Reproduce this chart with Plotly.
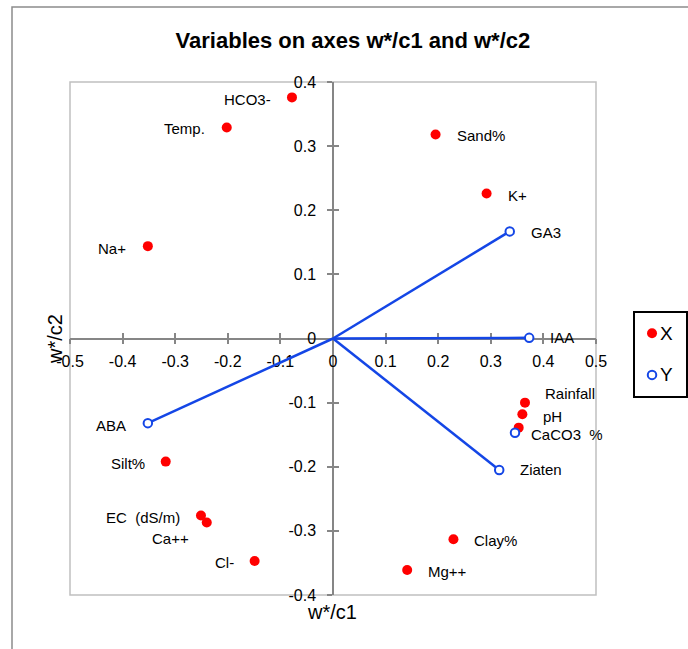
import plotly.graph_objects as go

# ---- data ----
x_names = ["HCO3-", "Temp.", "Na+", "Sand%", "K+", "Silt%", "EC  (dS/m)", "Ca++", "Cl-",
           "Rainfall", "pH", "CaCO3  %", "Clay%", "Mg++"]
x_c1 = [-0.078, -0.202, -0.352, 0.195, 0.292, -0.318, -0.251, -0.240, -0.149,
        0.365, 0.360, 0.353, 0.229, 0.141]
x_c2 = [0.376, 0.329, 0.144, 0.318, 0.226, -0.192, -0.276, -0.287, -0.347,
        -0.100, -0.118, -0.139, -0.313, -0.361]

y_names = ["GA3", "IAA", "ABA", "Ziaten", ""]
y_c1 = [0.336, 0.373, -0.352, 0.316, 0.346]
y_c2 = [0.167, 0.001, -0.132, -0.205, -0.147]
y_arrows = ["GA3", "IAA", "ABA", "Ziaten"]

x_ticks = [-0.5, -0.4, -0.3, -0.2, -0.1, 0, 0.1, 0.2, 0.3, 0.4, 0.5]
y_ticks = [-0.4, -0.3, -0.2, -0.1, 0, 0.1, 0.2, 0.3, 0.4]

series_names = ["X", "Y"]

# ---- label placement (anchor side, xshift, yshift in px) ----
label_pos = {
    "HCO3-": ("right", -19, -2), "Temp.": ("right", -20, -1), "Na+": ("right", -20, -2),
    "Sand%": ("left", 19, -1), "K+": ("left", 19, -2), "Silt%": ("right", -19, -2),
    "EC  (dS/m)": ("right", -19, -2), "Ca++": ("right", -16, -16), "Cl-": ("right", -19, -1),
    "Rainfall": ("left", 18, 9), "pH": ("left", 19, -2), "CaCO3  %": ("left", 10, -7),
    "Clay%": ("left", 19, -1), "Mg++": ("left", 19, -2),
    "GA3": ("left", 19, -1), "IAA": ("left", 19, 0), "ABA": ("right", -20, -2),
    "Ziaten": ("left", 19, 0),
}

RED = "#FF0000"
BLUE = "#1446E6"
FONT = "Liberation Sans, Arial, sans-serif"

PW = 688 - 70          # paper width (right margin 0)
PLOT_W = 526           # plot area width
XD = PLOT_W / PW       # x domain end

fig = go.Figure()

# vectors from origin to Y variables
lx, ly = [], []
for n, a, b in zip(y_names, y_c1, y_c2):
    if n in y_arrows:
        lx += [0, a, None]
        ly += [0, b, None]
fig.add_trace(go.Scatter(x=lx, y=ly, mode="lines", line=dict(color=BLUE, width=2.5),
                         showlegend=False, hoverinfo="skip"))

x_marker = dict(color=RED, size=10, line=dict(width=0))
y_marker = dict(color="white", size=8.5, line=dict(color=BLUE, width=2))

fig.add_trace(go.Scatter(x=x_c1, y=x_c2, mode="markers", name=series_names[0],
                         marker=x_marker, showlegend=False))
fig.add_trace(go.Scatter(x=y_c1, y=y_c2, mode="markers", name=series_names[1],
                         marker=y_marker, showlegend=False))

annotations = []
for names, xs, ys in ((x_names, x_c1, x_c2), (y_names, y_c1, y_c2)):
    for n, a, b in zip(names, xs, ys):
        if not n:
            continue
        side, dx, dy = label_pos[n]
        annotations.append(dict(x=a, y=b, xref="x", yref="y", text=n, showarrow=False,
                                xanchor=side, yanchor="middle", xshift=dx, yshift=dy,
                                font=dict(family=FONT, size=15, color="black")))

# axis titles
annotations.append(dict(x=(332 - 70) / PLOT_W, y=(595 - 612) / 513, xref="x domain",
                        yref="y domain", text="w*/c1", showarrow=False, xanchor="center",
                        yanchor="middle", font=dict(family=FONT, size=20, color="black")))
annotations.append(dict(x=(55 - 70) / PLOT_W, y=(595 - 339) / 513, xref="x domain",
                        yref="y domain", text="w*/c2", showarrow=False, textangle=-90,
                        xanchor="center", yanchor="middle",
                        font=dict(family=FONT, size=20, color="black")))

# legend (drawn in its own small axes box)
leg_y = [0.75, 0.26]
fig.add_trace(go.Scatter(x=[0.34], y=[leg_y[0]], mode="markers", marker=x_marker,
                         xaxis="x3", yaxis="y3", showlegend=False, hoverinfo="skip"))
fig.add_trace(go.Scatter(x=[0.34], y=[leg_y[1]], mode="markers", marker=y_marker,
                         xaxis="x3", yaxis="y3", showlegend=False, hoverinfo="skip"))
for nm, yy in zip(series_names, leg_y):
    annotations.append(dict(x=0.46, y=yy, xref="x3", yref="y3", text=nm, showarrow=False,
                            xanchor="left", yanchor="middle",
                            font=dict(family=FONT, size=19, color="black")))

axis_common = dict(showgrid=False, zeroline=False, showline=True, linecolor="#868686",
                   linewidth=1.5, tickcolor="#868686", tickwidth=1.5, ticklen=5,
                   anchor="free", layer="below traces")
tickfont = dict(family=FONT, size=16, color="black")

fig.update_layout(
    width=688, height=649,
    margin=dict(l=70, r=0, t=82, b=54, autoexpand=False),
    paper_bgcolor="white", plot_bgcolor="white",
    title=dict(text="<b>Variables on axes w*/c1 and w*/c2</b>", x=0.513, xref="container",
               xanchor="center", y=1 - 40 / 649, yref="container", yanchor="middle",
               font=dict(family=FONT, size=22, color="black")),
    xaxis=dict(range=[-0.5, 0.5], domain=[0, XD], tickvals=x_ticks,
               ticktext=[f"{v:g}" for v in x_ticks], ticks="outside", position=0.5,
               tickfont=tickfont, ticklabelstandoff=4, **axis_common),
    yaxis=dict(range=[-0.4, 0.4], domain=[0, 1], tickvals=y_ticks,
               ticktext=[f"{v:g}" for v in y_ticks], ticks="outside", position=0.5 * XD,
               tickfont=tickfont, ticklabelstandoff=8, **axis_common),
    xaxis2=dict(range=[-0.5, 0.5], domain=[0, XD], tickvals=x_ticks, overlaying="x",
                ticks="inside", showticklabels=False, position=0.5, **axis_common),
    yaxis2=dict(range=[-0.4, 0.4], domain=[0, 1], tickvals=y_ticks, overlaying="y",
                ticks="inside", showticklabels=False, position=0.5 * XD, **axis_common),
    xaxis3=dict(range=[0, 1], domain=[(634 - 70) / PW, (687 - 70) / PW], visible=False,
                fixedrange=True),
    yaxis3=dict(range=[0, 1], domain=[(595 - 397) / 513, (595 - 312) / 513], visible=False,
                fixedrange=True, anchor="x3"),
    showlegend=False,
    annotations=annotations,
    shapes=[
        dict(type="rect", xref="x domain", yref="y domain", x0=0, x1=1, y0=0, y1=1,
             line=dict(color="#C0C0C0", width=1.5), layer="below"),
        dict(type="rect", xref="paper", yref="paper", x0=(12 - 70) / PW, x1=1.5,
             y0=-0.5, y1=(595 - 7) / 513, line=dict(color="#8C8C8C", width=1.5),
             layer="below"),
        dict(type="rect", xref="x3 domain", yref="y3 domain", x0=0, x1=1, y0=0, y1=1,
             line=dict(color="black", width=2), fillcolor="white", layer="below"),
    ],
)
# dummy trace so overlay axes render
fig.add_trace(go.Scatter(x=[None], y=[None], xaxis="x2", yaxis="y2", showlegend=False,
                         hoverinfo="skip"))

fig.write_html("out.html")
